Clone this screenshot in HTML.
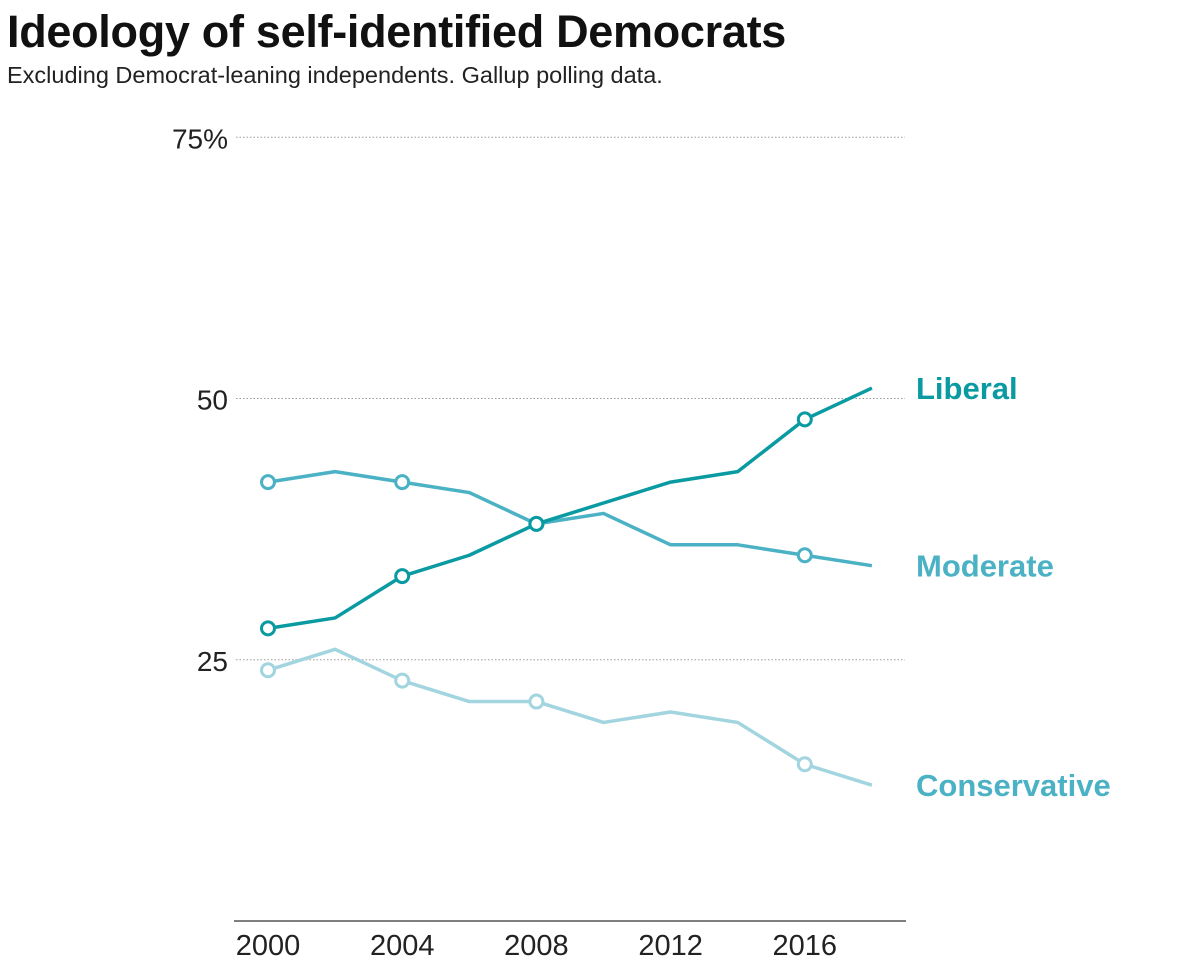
<!DOCTYPE html>
<html><head><meta charset="utf-8"><style>
body{margin:0;background:#fff;width:1200px;height:970px;overflow:hidden;font-family:"Liberation Sans",sans-serif}
#title{position:absolute;left:7px;top:6px;font-size:45px;font-weight:bold;color:#111;letter-spacing:-0.3px}
#sub{position:absolute;left:7px;top:62px;font-size:23.5px;color:#222}
svg{position:absolute;left:0;top:0}
</style></head><body>
<div id="title">Ideology of self-identified Democrats</div>
<div id="sub">Excluding Democrat-leaning independents. Gallup polling data.</div>
<svg id="chart" width="1200" height="970"></svg>
<script>
const years=[2000,2002,2004,2006,2008,2010,2012,2014,2016,2018];
const liberal=[28,29,33,35,38,40,42,43,48,51];
const moderate=[42,43,42,41,38,39,36,36,35,34];
const conservative=[24,26,23,21,21,19,20,19,15,13];
const markerYears=[2000,2004,2008,2016];
const yTicks=[25,50,75];
const yTickLabels=["25","50","75%"];
const xTicks=[2000,2004,2008,2012,2016];
const NS="http://www.w3.org/2000/svg";
const svg=document.getElementById('chart');
const xs=y=>268+(y-2000)*33.55;
const ys=v=>921-v*10.45;
function mk(t,a){const e=document.createElementNS(NS,t);for(const k in a)e.setAttribute(k,a[k]);svg.appendChild(e);return e;}
yTicks.forEach((v,i)=>{
 const g=mk('line',{x1:236,x2:905,y1:ys(v),y2:ys(v),stroke:'#999','stroke-width':1,'stroke-dasharray':'1.5,2'});
 
 
 const t=mk('text',{x:228,y:ys(v)+11,'text-anchor':'end','font-size':28,fill:'#222','font-family':'Liberation Sans, sans-serif'});
 t.textContent=yTickLabels[i];
 
 
});
const ax=mk('line',{x1:234,x2:906,y1:921,y2:921,stroke:'#555','stroke-width':1.5});


xTicks.forEach(y=>{
 const t=mk('text',{x:xs(y),y:955,'text-anchor':'middle','font-size':29,fill:'#222','font-family':'Liberation Sans, sans-serif'});
 t.textContent=y;
 
 
});
const series=[["liberal",liberal,"#0a9aa2","Liberal"],["moderate",moderate,"#4ab2c4","Moderate"],["conservative",conservative,"#a2d5df","Conservative"]];
series.slice().reverse().forEach(([n,vals,c,lab])=>{
 const p=mk('polyline',{points:years.map((y,i)=>xs(y)+','+ys(vals[i])).join(' '),fill:'none',stroke:c,'stroke-width':3.5,'stroke-linejoin':'round'});
 
 
 markerYears.forEach(my=>{
  const i=years.indexOf(my);
  const m=mk('circle',{cx:xs(my),cy:ys(vals[i]),r:6.5,fill:'#fff',stroke:c,'stroke-width':3});
  
  
 });
 const t=mk('text',{x:916,y:ys(vals[vals.length-1])+11,'font-size':31,'font-weight':'bold',fill:c==="#a2d5df"?"#4ab2c4":c,'font-family':'Liberation Sans, sans-serif'});
 t.textContent=lab;
 
 
});
</script>
</body></html>
